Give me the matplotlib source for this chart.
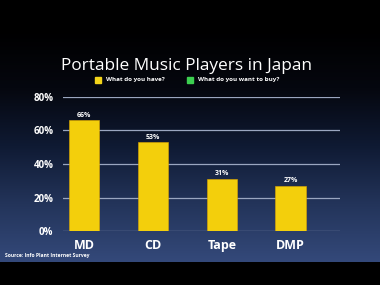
import numpy as np
import matplotlib
matplotlib.use("Agg")
import matplotlib.pyplot as plt
from matplotlib.colors import LinearSegmentedColormap

plt.rcParams["font.family"] = ["Open Sans", "DejaVu Sans"]

categories = ["MD", "CD", "Tape", "DMP"]
have = [66, 53, 31, 27]
yticks = [0, 20, 40, 60, 80]
ytick_labels = ["0%", "20%", "40%", "60%", "80%"]
title = "Portable Music Players in Japan"
legend_labels = ["What do you have?", "What do you want to buy?"]
source = "Source: Info Plant Internet Survey"

W, H = 380, 285
fig = plt.figure(figsize=(W / 100, H / 100), dpi=100, facecolor="black")

# slide background gradient
bg = fig.add_axes([0, 0, 1, 1])
bg.set_axis_off()
cmap = LinearSegmentedColormap.from_list(
    "slide", ["#000000", "#05070f", "#0f1a33", "#23345a", "#34497a"])
grad = np.linspace(0, 1, 256).reshape(-1, 1)
bg.imshow(grad, aspect="auto", cmap=cmap,
          extent=[0, 1, 1 - 262 / H, 1 - 30 / H], origin="upper")
bg.set_xlim(0, 1)
bg.set_ylim(0, 1)

# plot axes: x 63..340, y 97..231
ax = fig.add_axes([63 / W, 1 - 231 / H, (340 - 63) / W, (231 - 97) / H])
ax.patch.set_alpha(0)
x = np.arange(len(categories))
ax.bar(x, have, width=0.44, color="#f3cf0c", edgecolor="#e0a800",
       linewidth=0.4, zorder=3)
for xi, v in zip(x, have):
    ax.text(xi, v + 1.0, f"{v}%", ha="center", va="bottom",
            color="white", fontsize=5, fontweight="bold")
ax.set_xlim(-0.31, 3.72)
ax.set_ylim(0, 80)
for t in yticks:
    ax.axhline(t, color="#9aa6c0", lw=0.9, zorder=1)
ax.set_yticks(yticks)
ax.set_yticklabels(ytick_labels, color="white", fontsize=7, fontweight="bold")
ax.tick_params(axis="y", length=0, pad=7)
ax.set_xticks(x)
ax.set_xticklabels(categories, color="white", fontsize=9, fontweight="bold")
ax.tick_params(axis="x", length=0, pad=6)
for s in ax.spines.values():
    s.set_visible(False)

fig.text(0.49, 1 - 66 / H, title, ha="center", va="center",
         color="white", fontsize=12.4, fontweight="medium")

# legend
fig.patches.append(plt.Rectangle((95 / W, 1 - 83 / H), 6 / W, 6 / H,
                                 transform=fig.transFigure,
                                 color="#f3d41a", figure=fig))
fig.text(106 / W, 1 - 80 / H, legend_labels[0], ha="left", va="center",
         color="white", fontsize=4.5, fontweight="bold")
fig.patches.append(plt.Rectangle((187 / W, 1 - 83 / H), 6 / W, 6 / H,
                                 transform=fig.transFigure,
                                 color="#3ccf50", figure=fig))
fig.text(198 / W, 1 - 80 / H, legend_labels[1], ha="left", va="center",
         color="white", fontsize=4.5, fontweight="bold")

fig.text(5 / W, 1 - 256 / H, source, ha="left", va="center",
         color="white", fontsize=3.6, fontweight="bold")

fig.savefig("out.png", dpi=100, facecolor="black")
